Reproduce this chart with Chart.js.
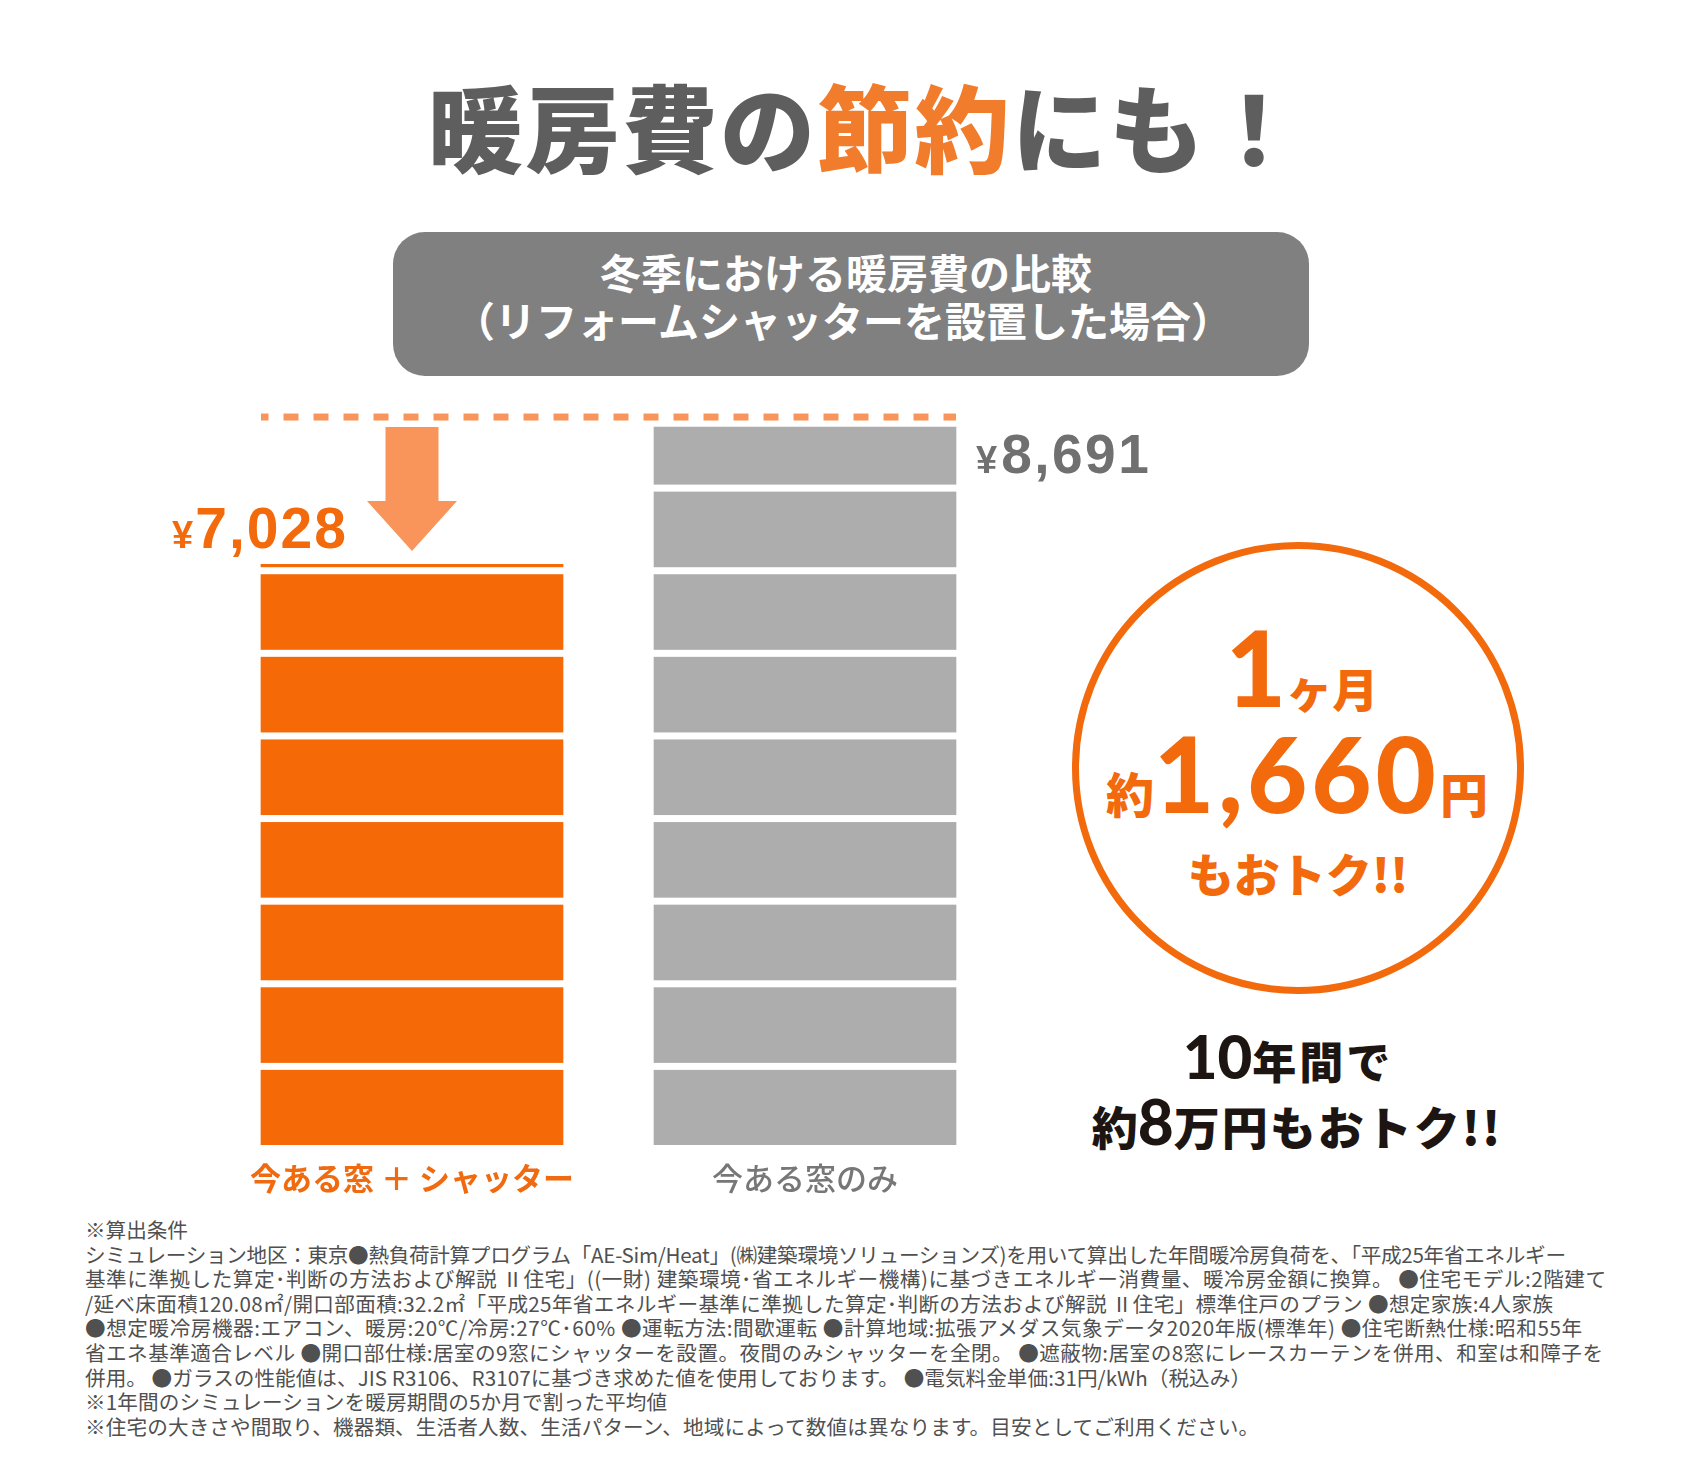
<!DOCTYPE html>
<html lang="ja">
<head>
<meta charset="utf-8">
<title>暖房費の節約にも！</title>
<script src="https://cdn.jsdelivr.net/npm/chart.js@4.4.1/dist/chart.umd.min.js"></script>
<style>
  html, body { margin: 0; padding: 0; background: #ffffff; }
  #stage { position: relative; width: 1690px; height: 1469px; overflow: hidden; background: #ffffff; }
  #ann { position: absolute; left: 0; top: 0; }
  #chart { position: absolute; left: 0; top: 0; }
  .jp { font-family: "Noto Sans CJK JP", "Noto Sans", sans-serif; }
  .num { font-family: Lato, "Liberation Sans", sans-serif; }
  .note { white-space: pre; }
</style>
</head>
<body>
<div id="stage">
<svg id="ann" width="1690" height="1469" xmlns="http://www.w3.org/2000/svg">
  <!-- title -->
  <text class="jp" x="428" y="166" font-size="95" font-weight="900" letter-spacing="2.3" fill="#5E5E5E"><tspan>暖房費の</tspan><tspan fill="#F07C2C">節約</tspan><tspan>にも！</tspan></text>
  <!-- subtitle box -->
  <rect x="393" y="232" width="916" height="144" rx="32" ry="32" fill="#808080"/>
  <text class="jp" x="846" y="289" text-anchor="middle" font-size="41" font-weight="700" fill="#ffffff">冬季における暖房費の比較</text>
  <text class="jp" x="843" y="337" text-anchor="middle" font-size="41" font-weight="700" fill="#ffffff">（リフォームシャッターを設置した場合）</text>
  <!-- savings circle -->
  <circle cx="1298" cy="768" r="222.5" fill="none" stroke="#F26A0C" stroke-width="7"/>
  <text x="1302" y="707" text-anchor="middle" fill="#F26A0C"><tspan class="num" font-size="104" font-weight="900">1</tspan><tspan class="jp" font-size="46" font-weight="900">ヶ月</tspan></text>
  <text x="1297" y="813" text-anchor="middle" fill="#F26A0C"><tspan class="jp" font-size="48" font-weight="900">約</tspan><tspan class="num" font-size="104" font-weight="900" letter-spacing="4">1,660</tspan><tspan class="jp" font-size="48" font-weight="900">円</tspan></text>
  <text class="jp" x="1298" y="892" text-anchor="middle" font-size="46" font-weight="900" fill="#F26A0C">もおトク!!</text>
  <!-- ten years -->
  <text x="1288" y="1079" text-anchor="middle" fill="#1C1512"><tspan class="num" font-size="60" font-weight="900">10</tspan><tspan class="jp" font-size="44" font-weight="900" letter-spacing="3">年間で</tspan></text>
  <text x="1297" y="1145" text-anchor="middle" fill="#1C1512"><tspan class="jp" font-size="46" font-weight="900">約</tspan><tspan class="num" font-size="62" font-weight="900">8</tspan><tspan class="jp" font-size="46" font-weight="900" letter-spacing="2">万円もおトク!!</tspan></text>
  <!-- footnotes -->
  <g class="jp note" font-size="20.6" fill="#505050">
    <text x="85" y="1238">※算出条件</text>
    <text x="85" y="1262.6" textLength="1481" lengthAdjust="spacing">シミュレーション地区：東京●熱負荷計算プログラム「AE-Sim/Heat」(㈱建築環境ソリューションズ)を用いて算出した年間暖冷房負荷を、「平成25年省エネルギー</text>
    <text x="85" y="1287.2" textLength="1521" lengthAdjust="spacing">基準に準拠した算定･判断の方法および解説 Ⅱ住宅」((一財) 建築環境･省エネルギー機構)に基づきエネルギー消費量、暖冷房金額に換算。 ●住宅モデル:2階建て</text>
    <text x="85" y="1311.8" textLength="1468" lengthAdjust="spacing">/延べ床面積120.08㎡/開口部面積:32.2㎡「平成25年省エネルギー基準に準拠した算定･判断の方法および解説 Ⅱ住宅」標準住戸のプラン ●想定家族:4人家族</text>
    <text x="85" y="1336.4" textLength="1497" lengthAdjust="spacing">●想定暖冷房機器:エアコン、暖房:20℃/冷房:27℃･60% ●運転方法:間歇運転 ●計算地域:拡張アメダス気象データ2020年版(標準年) ●住宅断熱仕様:昭和55年</text>
    <text x="85" y="1361" textLength="1518" lengthAdjust="spacing">省エネ基準適合レベル ●開口部仕様:居室の9窓にシャッターを設置。夜間のみシャッターを全閉。 ●遮蔽物:居室の8窓にレースカーテンを併用、和室は和障子を</text>
    <text x="85" y="1385.6" textLength="1166" lengthAdjust="spacing">併用。 ●ガラスの性能値は、JIS R3106、R3107に基づき求めた値を使用しております。 ●電気料金単価:31円/kWh（税込み）</text>
    <text x="85" y="1410.2" textLength="582" lengthAdjust="spacing">※1年間のシミュレーションを暖房期間の5か月で割った平均値</text>
    <text x="85" y="1434.8" textLength="1174" lengthAdjust="spacing">※住宅の大きさや間取り、機器類、生活者人数、生活パターン、地域によって数値は異なります。目安としてご利用ください。</text>
  </g>
</svg>
<canvas id="chart" width="1690" height="1469"></canvas>
</div>
<script>
// ---- data ----
const categories = ['今ある窓 ＋ シャッター', '今ある窓のみ'];
const heatingCost = [7028, 8691];          // 冬季の月平均暖房費（円）
const blockSize = 1000;                      // 1 block = ¥1,000
const yAxisMax = 9000;

// ---- styles ----
const barColors = ['#F56A06', '#ADADAD'];
const labelColors = ['#F06A10', '#777777'];
const labelWeights = ['700', '500'];
const valueColors = ['#F26A0C', '#707070'];
const accent = '#F9955A';

function fmt(v) { return v.toLocaleString('en-US'); }

const decor = {
  id: 'decor',
  afterDatasetsDraw(chart) {
    const ctx = chart.ctx;
    const y = chart.scales.y;
    const bars = chart.getDatasetMeta(0).data;
    ctx.save();

    // white gaps between ¥1,000 blocks
    bars.forEach((bar, i) => {
      const v = heatingCost[i];
      const left = bar.x - bar.width / 2;
      ctx.fillStyle = '#ffffff';
      for (let k = blockSize; k < v; k += blockSize) {
        const py = y.getPixelForValue(k);
        ctx.fillRect(left - 1, py + 0.5, bar.width + 2, 7);
      }
    });

    // dashed reference line at the higher cost
    const hi = Math.max(...heatingCost);
    const lineY = y.getPixelForValue(hi) - 10;
    const x0 = bars[0].x - bars[0].width / 2;
    const x1 = bars[1].x + bars[1].width / 2;
    ctx.strokeStyle = accent;
    ctx.lineWidth = 7;
    ctx.setLineDash([15, 15]);
    ctx.lineDashOffset = 7.5;
    ctx.beginPath();
    ctx.moveTo(x0, lineY);
    ctx.lineTo(x1, lineY);
    ctx.stroke();
    ctx.setLineDash([]);

    // down arrow above the lower bar
    const ax = bars[0].x;
    const aTop = y.getPixelForValue(hi);
    const tip = bars[0].y - 13.5;
    const headBase = tip - 50;
    ctx.fillStyle = accent;
    ctx.beginPath();
    ctx.moveTo(ax - 26.5, aTop);
    ctx.lineTo(ax + 26.5, aTop);
    ctx.lineTo(ax + 26.5, headBase);
    ctx.lineTo(ax + 45, headBase);
    ctx.lineTo(ax, tip);
    ctx.lineTo(ax - 45, headBase);
    ctx.lineTo(ax - 26.5, headBase);
    ctx.closePath();
    ctx.fill();

    // value labels
    ctx.textBaseline = 'alphabetic';
    ctx.textAlign = 'left';
    // lower bar: centered on its left edge, above the bar
    {
      const bar = bars[0];
      const smallF = 'bold 38px "Liberation Sans", Arial, sans-serif';
      const bigF = 'bold 57px "Liberation Sans", Arial, sans-serif';
      ctx.font = smallF; const w1 = ctx.measureText('¥').width;
      ctx.font = bigF; ctx.letterSpacing = '2px';
      const w2 = ctx.measureText(fmt(heatingCost[0])).width;
      const total = w1 + 2 + w2;
      const cx = bar.x - bar.width / 2 - 1;
      const base = bar.y - 16.5;
      let sx = cx - total / 2;
      ctx.fillStyle = valueColors[0];
      ctx.letterSpacing = '0px';
      ctx.font = smallF; ctx.fillText('¥', sx, base);
      ctx.font = bigF; ctx.letterSpacing = '2px';
      ctx.fillText(fmt(heatingCost[0]), sx + w1 + 2, base);
      ctx.letterSpacing = '0px';
    }
    // higher bar: right of the bar, near its top
    {
      const bar = bars[1];
      const smallF = 'bold 38px "Liberation Sans", Arial, sans-serif';
      const bigF = 'bold 55px "Liberation Sans", Arial, sans-serif';
      const sx = bar.x + bar.width / 2 + 20;
      const base = bar.y + 46;
      ctx.fillStyle = valueColors[1];
      ctx.font = smallF; const w1 = ctx.measureText('¥').width;
      ctx.fillText('¥', sx, base);
      ctx.font = bigF; ctx.letterSpacing = '2.5px';
      ctx.fillText(fmt(heatingCost[1]), sx + w1 + 4, base);
      ctx.letterSpacing = '0px';
    }
    ctx.restore();
  }
};

new Chart(document.getElementById('chart'), {
  type: 'bar',
  data: {
    labels: categories,
    datasets: [{
      data: heatingCost,
      backgroundColor: barColors,
      borderWidth: 0,
      barThickness: 302
    }]
  },
  options: {
    responsive: false,
    animation: false,
    devicePixelRatio: 1,
    layout: { padding: { left: 215.5, right: 1690 - 1001.5, top: 401.5, bottom: 1469 - 1145 - 70 } },
    plugins: { legend: { display: false }, tooltip: { enabled: false } },
    scales: {
      x: {
        grid: { display: false, drawTicks: false },
        border: { display: false },
        ticks: {
          padding: 15,
          maxRotation: 0,
          autoSkip: false,
          font: (c) => ({ family: '"Noto Sans CJK JP", sans-serif', size: 31, weight: labelWeights[c.index] }),
          color: (c) => labelColors[c.index]
        },
        afterFit: (s) => { s.height = 70; }
      },
      y: { display: false, min: 0, max: yAxisMax }
    }
  },
  plugins: [decor]
});
</script>
</body>
</html>
